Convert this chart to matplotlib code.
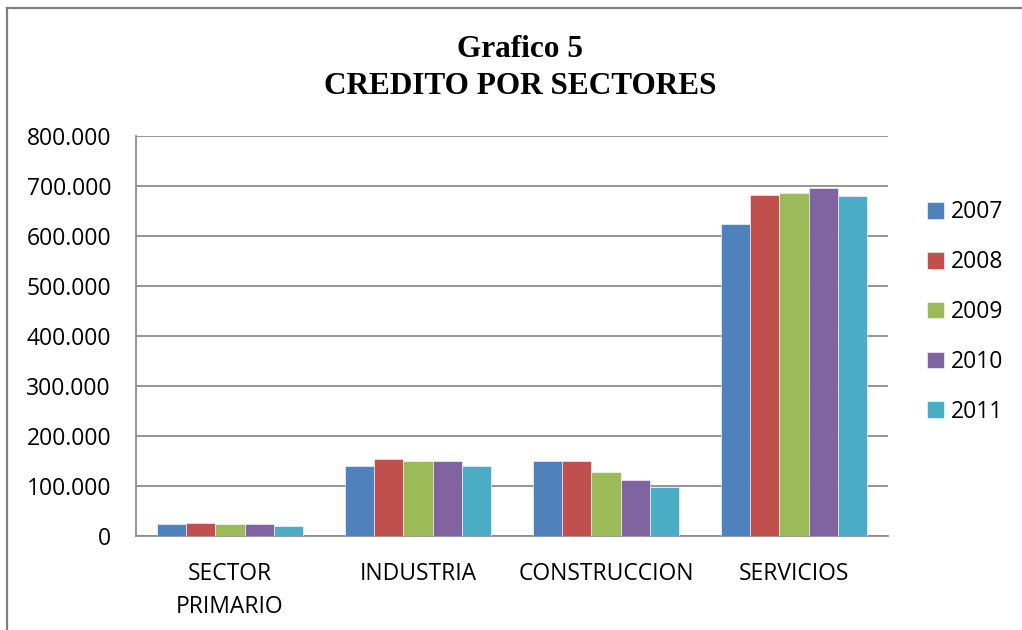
import numpy as np
import matplotlib.pyplot as plt
from matplotlib.lines import Line2D
from matplotlib.ticker import FuncFormatter

# credito por sectores, miles
sectores = ["SECTOR\nPRIMARIO", "INDUSTRIA", "CONSTRUCCION", "SERVICIOS"]
anios = ["2007", "2008", "2009", "2010", "2011"]
credito_2007 = [23400, 141000, 151000, 625000]
credito_2008 = [26700, 155000, 151000, 683000]
credito_2009 = [23400, 151000, 129000, 686000]
credito_2010 = [23400, 151000, 113000, 696000]
credito_2011 = [20700, 141000, 99000, 681000]
colores = ["#4F81BD", "#C0504D", "#9BBB59", "#8064A2", "#4BACC6"]

series = [credito_2007, credito_2008, credito_2009, credito_2010, credito_2011]

plt.rcParams['font.family'] = ['Open Sans', 'DejaVu Sans']

fig = plt.figure(figsize=(10.22, 6.30), dpi=100)
ax = fig.add_axes([136 / 1022, 94 / 630, 752 / 1022, 400 / 630])

x = np.arange(len(sectores))
ancho = 0.155
for i, (vals, anio, col) in enumerate(zip(series, anios, colores)):
    ax.bar(x + (i - 2) * ancho, vals, ancho, color=col, label=anio,
           edgecolor="white", linewidth=0.4, zorder=3)

ax.set_xlim(-0.5, len(sectores) - 0.5)
ax.set_ylim(0, 800000)
ax.set_yticks(np.arange(0, 800001, 100000))
ax.yaxis.set_major_formatter(FuncFormatter(
    lambda v, p: "0" if v == 0 else f"{int(v):,}".replace(",", ".")))
ax.set_xticks(x)
ax.set_xticklabels(sectores, linespacing=1.5)
ax.tick_params(axis="both", length=0, labelsize=16.5, colors="black")
ax.tick_params(axis="y", pad=18)
ax.tick_params(axis="x", pad=19)

ax.grid(axis="y", color="#8c8c8c", linewidth=1.3, zorder=0)
for s in ["top", "right"]:
    ax.spines[s].set_visible(False)
for s in ["left", "bottom"]:
    ax.spines[s].set_color("#8c8c8c")
    ax.spines[s].set_linewidth(1.3)

fig.text(0.509, 1 - 68 / 630, "Grafico 5\nCREDITO POR SECTORES", ha="center", va="center",
         fontsize=22.5, fontweight="bold", family="Liberation Serif",
         linespacing=1.38)

ax.legend(loc="center left", bbox_to_anchor=(906 / 1022, 318 / 630),
          bbox_transform=fig.transFigure, frameon=False, fontsize=16.5,
          handlelength=0.75, handleheight=0.75, handletextpad=0.3,
          labelspacing=1.13)

# marco del grafico
fig.add_artist(Line2D([7 / 1022, 7 / 1022], [0, 1 - 8 / 630], color="#7f7f7f",
                      linewidth=1.6, transform=fig.transFigure))
fig.add_artist(Line2D([7 / 1022, 1], [1 - 8 / 630, 1 - 8 / 630], color="#7f7f7f",
                      linewidth=1.6, transform=fig.transFigure))

fig.savefig("out.png", dpi=100)
